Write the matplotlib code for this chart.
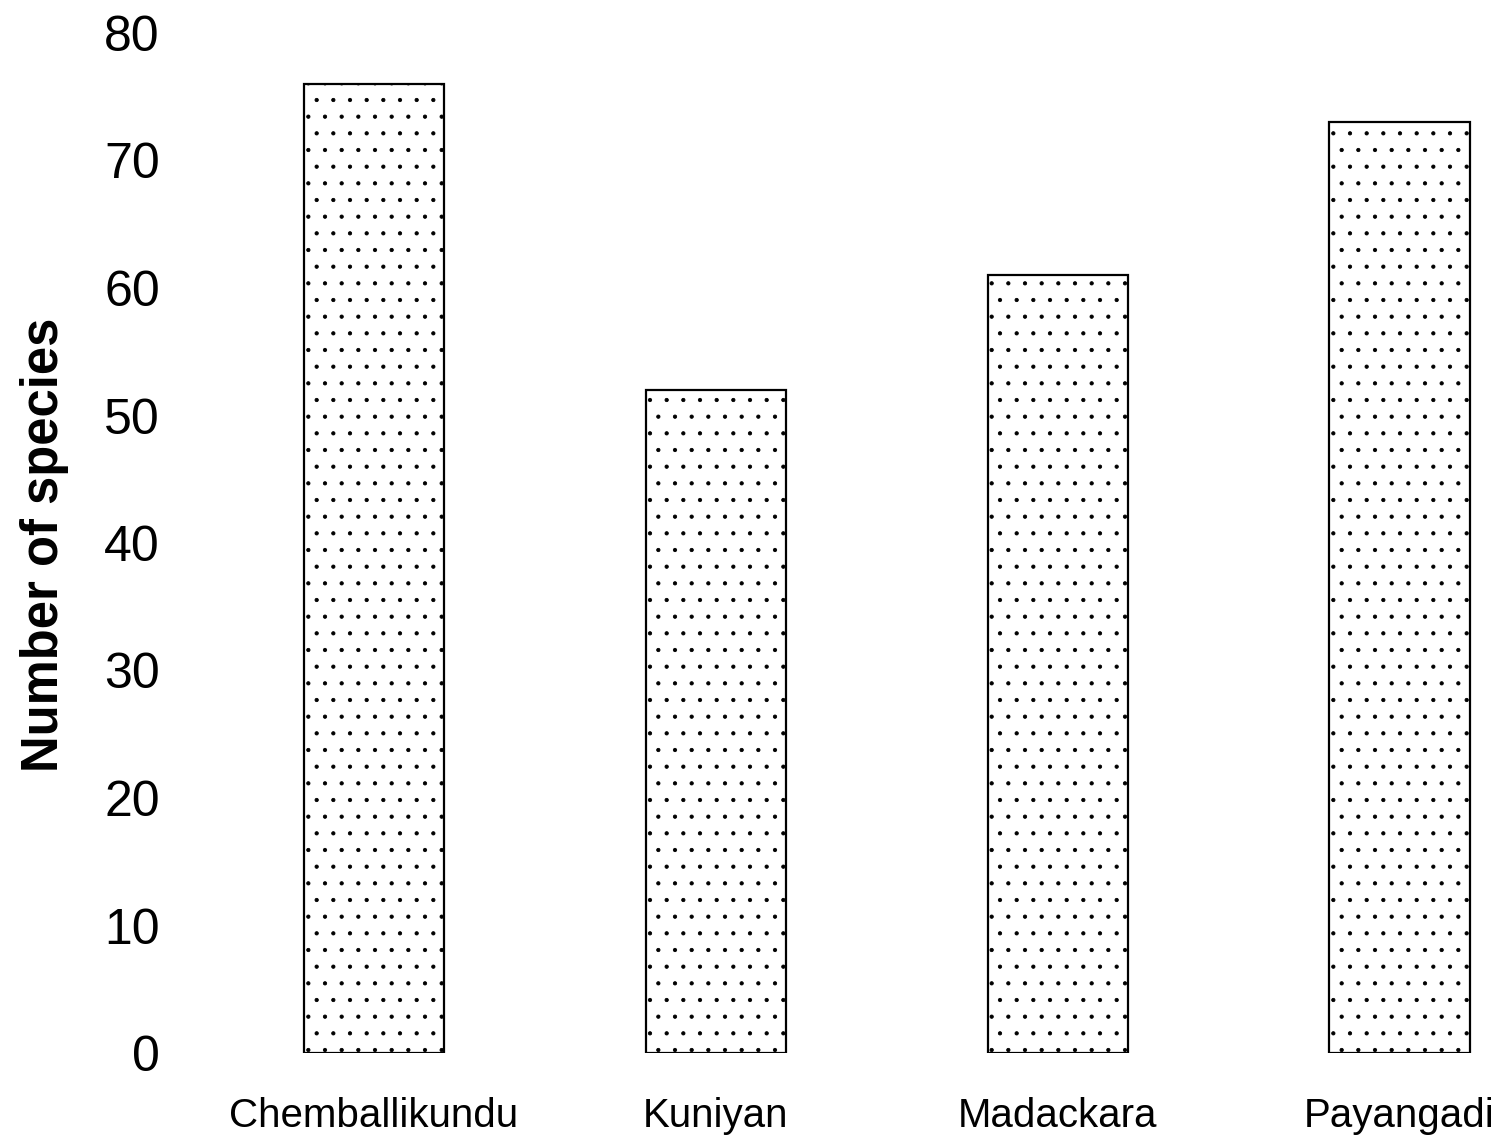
import matplotlib
matplotlib.use("Agg")
import matplotlib.pyplot as plt

sites = ["Chemballikundu", "Kuniyan", "Madackara", "Payangadi"]
species = [76, 52, 61, 73]
yticks = [0, 10, 20, 30, 40, 50, 60, 70, 80]

plt.rcParams['font.family'] = ['Liberation Sans', 'DejaVu Sans']
plt.rcParams['hatch.linewidth'] = 0.6

fig = plt.figure(figsize=(15.02, 11.45), dpi=100)
ax = fig.add_axes([203 / 1502, 1 - 1053 / 1145, (1485 - 203) / 1502, (1053 - 33) / 1145])

x = list(range(len(sites)))
ax.bar(x, species, width=0.41, color='white', edgecolor='black',
       linewidth=1.6, hatch='.')

ax.set_xlim(-0.5, 3.25)
ax.set_ylim(0, 80)
ax.set_yticks(yticks)
ax.set_xticks(x)
ax.set_xticklabels(sites, fontsize=29)
ax.tick_params(axis='y', length=0, pad=31, labelsize=36)
ax.tick_params(axis='x', length=0, pad=32)
for s in ax.spines.values():
    s.set_visible(False)

fig.text(45 / 1502, 1 - 545 / 1145, "Number of species", rotation=90,
         ha='center', va='center', fontsize=36.5, fontweight='bold')

fig.savefig("out.png", dpi=100, facecolor='white')
